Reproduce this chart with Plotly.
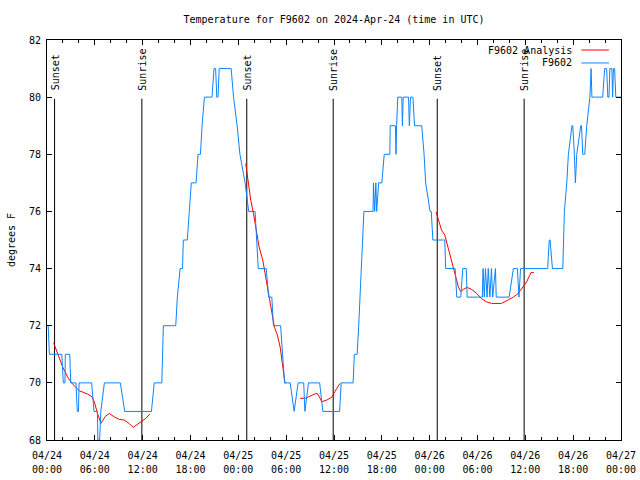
import plotly.graph_objects as go
import pandas as pd

BASE = pd.Timestamp("2024-04-24 00:00")

# F9602 observations (hours after 2024-04-24 00:00 UTC, degrees F)
blue_hours = [0.0, 0.15, 0.3, 1.85, 2.05, 2.25, 2.3, 2.85, 2.98, 3.63, 3.8, 3.95, 4.02, 5.6, 5.9, 6.32, 6.38, 6.6,
              6.75, 7.2, 9.2, 9.75, 13.1, 13.45, 14.4, 14.6, 16.15, 16.35, 16.7, 17.0, 17.1, 17.6, 17.85, 18.1,
              18.7, 18.95, 19.25, 19.45, 19.75, 20.7, 20.95, 21.15, 21.3, 21.45, 21.6, 23.1, 23.4, 23.85, 24.2,
              24.85, 25.3, 26.1, 26.5, 27.5, 27.8, 28.2, 28.4, 29.3, 29.8, 30.5, 31.0, 31.5, 32.2, 32.3, 32.35,
              32.8, 34.2, 34.6, 36.7, 36.9, 38.4, 38.55, 38.9, 39.1, 39.26, 39.45, 39.6, 39.75, 40.9, 40.95, 41.1,
              41.25, 41.35, 41.6, 42.0, 42.3, 43.0, 43.05, 43.7, 43.78, 43.85, 44.0, 44.5, 44.58, 44.68, 45.35,
              45.45, 45.6, 45.9, 46.1, 47.0, 47.3, 47.5, 48.05, 48.2, 48.4, 49.9, 50.0, 51.2, 51.4, 51.9, 52.15,
              52.6, 52.7, 54.6, 54.7, 54.85, 55.0, 55.2, 55.35, 55.55, 55.75, 55.9, 56.25, 56.35, 57.97, 58.5,
              59.0, 59.2, 59.4, 62.8, 63.0, 63.1, 63.4, 64.7, 64.9, 65.2, 65.4, 65.85, 65.95, 66.15, 66.28, 66.45,
              66.95, 67.05, 67.2, 67.45, 67.7, 68.1, 68.25, 68.35, 69.7, 69.95, 70.2, 70.35, 70.5, 70.6, 70.85,
              70.95, 71.05, 71.2, 71.35, 72.0]
blue_temps = [72, 72, 71, 71, 70, 70, 71, 71, 70, 70, 69, 69, 70, 70, 69, 69, 68, 68,
              69, 70, 70, 69, 69, 70, 70, 72, 72, 73, 74, 74, 75, 75, 76, 77,
              77, 78, 78, 79, 80, 80, 81, 81, 80, 80, 81, 81, 80, 79, 78,
              77, 76, 76, 74, 74, 73, 73, 72, 72, 70, 70, 69, 70, 70, 69, 69,
              70, 70, 69, 69, 70, 70, 71, 71, 72, 73, 74, 75, 76, 76, 77, 76,
              77, 76, 77, 77, 78, 78, 79, 79, 78, 79, 80, 80, 79, 80, 80,
              79, 80, 80, 79, 79, 78, 77, 76, 76, 75, 75, 74, 74, 73, 73, 74,
              74, 73, 73, 74, 73, 74, 73, 74, 73, 74, 73, 74, 73, 73, 74,
              74, 73, 74, 74, 75, 75, 74, 74, 76, 77, 78, 79, 79, 78, 77, 78,
              79, 79, 78, 78, 79, 80, 81, 80, 80, 81, 81, 80, 80, 81, 81,
              80, 81, 81, 80, 80]

# F9602 Analysis (None = gap)
red_hours = [0.83, 1.33, 1.96, 2.58, 3.08, 3.63, 4.05, 4.46, 5.09, 5.64, 5.93, 6.34, 6.76, 7.3, 7.8, 8.43, 9.06,
             9.69, 10.3, 10.8, 11.35, 11.98, 12.4, 12.9, None,
             24.93, 25.27, 25.56, 25.9, 26.3, 26.6, 27.07, 27.36, 27.64, 28.07, 28.52, 28.9, 29.24, 29.52, 29.78,
             29.86, None,
             31.74, 32.4, 32.8, 33.2, 33.75, 34.0, 34.46, 35.1, 35.7, 36.1, 36.75, None,
             48.8, 49.08, 49.5, 49.9, 50.3, 50.75, 51.2, 51.6, 51.9, 52.2, 52.7, 53.26, 53.9, 54.5, 55.1, 55.76,
             57.0, 57.6, 58.5, 59.1, 59.7, 60.15, 60.56, 60.7, 61.06]
red_temps = [71.4, 71.04, 70.56, 70.21, 70.0, 69.84, 69.72, 69.68, 69.61, 69.51, 69.34, 68.93, 68.58, 68.82, 68.93,
             68.81, 68.72, 68.70, 68.58, 68.44, 68.56, 68.68, 68.76, 68.91, None,
             77.67, 77.03, 76.39, 75.93, 75.34, 74.76, 74.29, 73.83, 73.24, 72.66, 71.96, 71.67, 71.26, 70.68, 70.10,
             69.98, None,
             69.46, 69.46, 69.51, 69.57, 69.63, 69.6, 69.34, 69.40, 69.49, 69.69, 69.98, None,
             75.98, 75.69, 75.34, 75.17, 74.76, 74.29, 73.83, 73.36, 73.19, 73.27, 73.34, 73.27, 73.13, 72.95, 72.84,
             72.78, 72.78, 72.87, 73.0, 73.13, 73.36, 73.53, 73.77, 73.86, 73.86]

event_hours = [0.95, 11.9, 25.06, 35.9, 48.95, 59.85]
event_labels = ["Sunset", "Sunrise", "Sunset", "Sunrise", "Sunset", "Sunrise"]

y_ticks = [68, 70, 72, 74, 76, 78, 80, 82]
x_range = ["2024-04-24 00:00", "2024-04-27 00:00"]


def to_time(hours):
    return [None if h is None else (BASE + pd.Timedelta(hours=h)).strftime("%Y-%m-%d %H:%M:%S") for h in hours]


FONT = "DejaVu Sans Mono"
BLUE = "#0a84ff"
RED = "#ff0000"
TXT = dict(family=FONT, size=10, color="black")

fig = go.Figure()
fig.add_trace(go.Scatter(x=to_time(red_hours), y=red_temps, mode="lines", name="F9602 Analysis",
                         line=dict(color=RED, width=1), connectgaps=False))
fig.add_trace(go.Scatter(x=to_time(blue_hours), y=blue_temps, mode="lines", name="F9602",
                         line=dict(color=BLUE, width=1)))
# invisible helper trace so the second (time-of-day) label row is drawn
fig.add_trace(go.Scatter(x=x_range, y=[None, None], xaxis="x2", mode="lines", showlegend=False,
                         hoverinfo="skip"))

for h, lab in zip(event_hours, event_labels):
    t = to_time([h])[0]
    fig.add_shape(type="line", xref="x", yref="paper", x0=t, x1=t, y0=0, y1=0.853,
                  line=dict(color="black", width=1), layer="below")
    fig.add_annotation(x=t, y=0.868, xref="x", yref="paper", text=lab, textangle=-90, showarrow=False,
                       xanchor="center", yanchor="bottom", xshift=1, font=TXT)

# legend drawn gnuplot-style (text left of sample line)
legend_rows = [("F9602 Analysis", RED, 0.975), ("F9602", BLUE, 0.9426)]
for name, col, yy in legend_rows:
    fig.add_annotation(x=0.9177, y=yy, xref="paper", yref="paper", text=name, showarrow=False,
                       xanchor="right", yanchor="middle", font=TXT)
    fig.add_shape(type="line", xref="paper", yref="paper", x0=0.931, x1=0.979, y0=yy, y1=yy,
                  line=dict(color=col, width=1))

fig.update_layout(
    width=640, height=480,
    margin=dict(l=47, r=19, t=40, b=40),
    paper_bgcolor="white", plot_bgcolor="white",
    showlegend=False,
    font=TXT,
    title=dict(text="Temperature for F9602 on 2024-Apr-24 (time in UTC)", x=0.5, xref="paper",
               y=1 - 19 / 480, yref="container", xanchor="center", yanchor="middle", font=TXT),
    xaxis=dict(
        type="date", range=x_range, automargin=False,
        tick0="2024-04-24 00:00", dtick=6 * 3600 * 1000, tickformat="%m/%d", ticklabelstandoff=6,
        ticks="inside", ticklen=5, tickcolor="black", tickwidth=1,
        showline=True, linecolor="black", linewidth=1, mirror="ticks",
        showgrid=False, zeroline=False,
        minor=dict(dtick=2 * 3600 * 1000, ticks="inside", ticklen=3, tickcolor="black", showgrid=False),
    ),
    xaxis2=dict(
        type="date", range=x_range, overlaying="x", side="bottom", automargin=False,
        tick0="2024-04-24 00:00", dtick=6 * 3600 * 1000, tickformat="%H:%M", ticklabelstandoff=22,
        ticks="", showline=False, showgrid=False, zeroline=False,
    ),
    yaxis=dict(
        range=[68, 82], tickvals=y_ticks, automargin=False, ticklabelstandoff=3,
        ticks="inside", ticklen=5, tickcolor="black", tickwidth=1,
        showline=True, linecolor="black", linewidth=1, mirror="ticks",
        showgrid=False, zeroline=False,
        title=dict(text="degrees F", standoff=11, font=TXT),
    ),
)

fig.write_html("out.html", config={"displayModeBar": False},
               post_script="document.body.style.margin='0';document.body.style.overflow='hidden';")
